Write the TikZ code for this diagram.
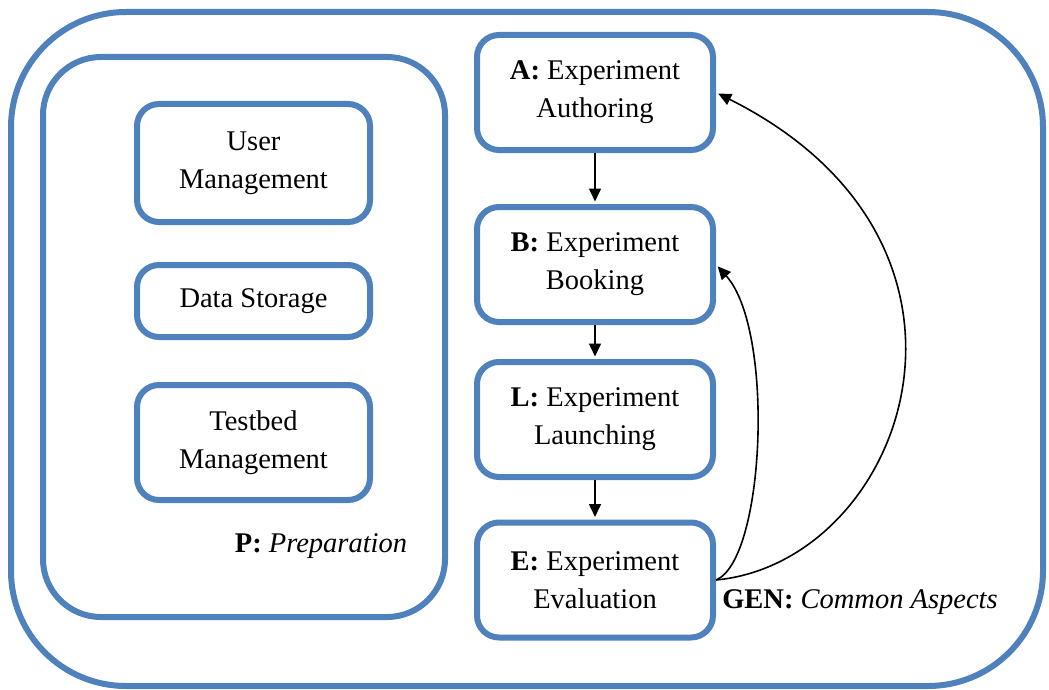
\documentclass[tikz,border=0pt]{standalone}
\usepackage{fontspec}
\setmainfont{Liberation Serif}
\usetikzlibrary{arrows.meta}
\definecolor{boxblue}{RGB}{79,129,189}
\begin{document}
\begin{tikzpicture}[x=1pt,y=-1pt,
  box/.style={draw=boxblue, line width=6pt, rounded corners=22pt, align=center, inner sep=0pt, font=\fontsize{28.5}{38}\selectfont, text=black},
  cont/.style={draw=boxblue, line width=6pt, inner sep=0pt},
  arr/.style={-{Triangle[length=13pt,width=12pt]}, line width=1.6pt, black, shorten >=2.5pt},
  lbl/.style={font=\fontsize{28.5}{38}\selectfont, inner sep=0pt, anchor=base}]
\useasboundingbox (0,0) rectangle (1049,690);
\node[cont, rounded corners=115pt, minimum width=1032pt, minimum height=674pt] (outer) at (527,349) {};
\node[cont, rounded corners=58pt, minimum width=402pt, minimum height=560pt] (prep) at (244,337) {};
\node[box, minimum width=233pt, minimum height=118pt] (user) at (253.5,163) {User\\Management};
\node[box, minimum width=233pt, minimum height=72pt] (data) at (253.5,301) {Data Storage};
\node[box, minimum width=233pt, minimum height=115pt] (test) at (253.5,442.5) {Testbed\\Management};
\node[box, minimum width=236pt, minimum height=115pt] (A) at (595,92.5) {\textbf{A:} Experiment\\Authoring};
\node[box, minimum width=236pt, minimum height=115pt] (B) at (595,264.5) {\textbf{B:} Experiment\\Booking};
\node[box, minimum width=236pt, minimum height=115pt] (L) at (595,419.5) {\textbf{L:} Experiment\\Launching};
\node[box, minimum width=236pt, minimum height=115pt] (E) at (595,580) {\textbf{E:} Experiment\\Evaluation};
\node[lbl] (plabel) at (321,552) {\textbf{P:} \textit{Preparation}};
\node[lbl] (glabel) at (860,608) {\textbf{GEN:} \textit{Common Aspects}};
\draw[arr] (A.south) -- (B.north);
\draw[arr] (B.south) -- (L.north);
\draw[arr] (L.south) -- (E.north);
\draw[arr] (E.east) .. controls (905,562) and (1020,245) .. (A.east);
\draw[arr] (E.east) .. controls (765,560) and (775,330) .. (B.east);
\end{tikzpicture}
\end{document}
